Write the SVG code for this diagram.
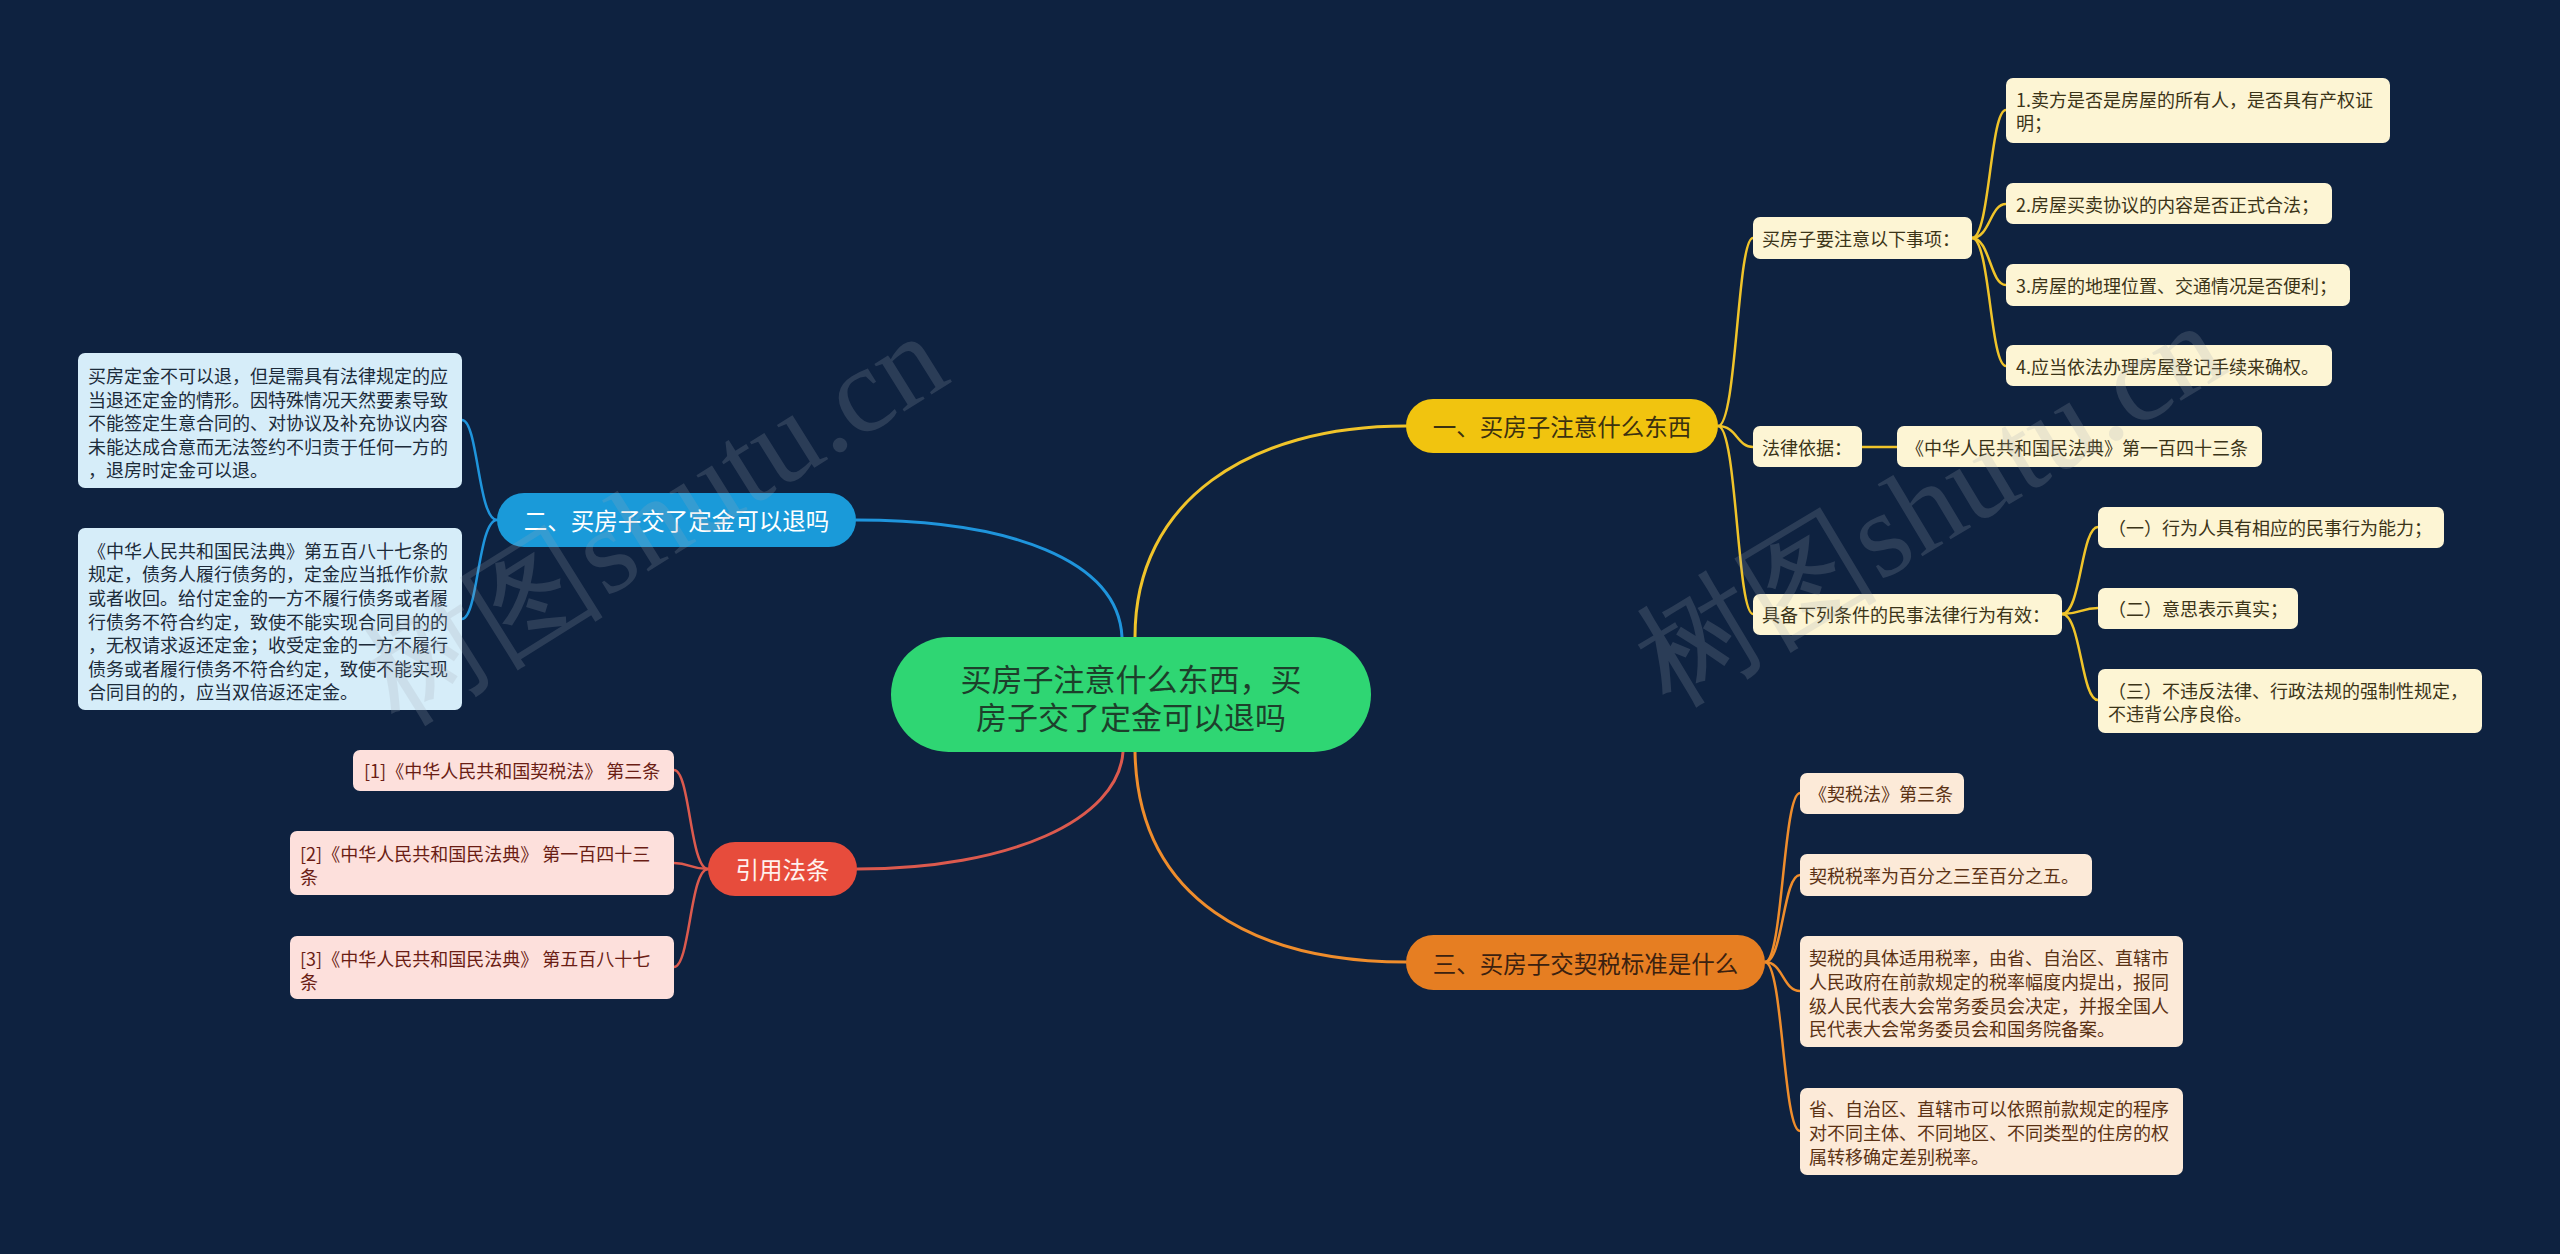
<svg xmlns="http://www.w3.org/2000/svg" width="2560" height="1254" viewBox="0 0 2560 1254">
<style>
text{font-family:"Noto Sans CJK SC","Microsoft YaHei","Noto Sans",sans-serif;dominant-baseline:central}
.wm{font-family:"Liberation Serif","DejaVu Serif",serif;font-size:122px;fill:#a0a8b4;opacity:0.2;dominant-baseline:alphabetic}
.main{fill:none;stroke-width:3;stroke-linecap:round}
.sub{fill:none;stroke-width:2.5;stroke-linecap:round}
.y{stroke:#f0c42a}.b{stroke:#1f95dc}.r{stroke:#dc5a4e}.o{stroke:#ef8d2c}
.l1{font-size:23.5px;text-anchor:middle}
.lf{font-size:18px}
.ly rect{fill:#fdf5d4}.ly text{fill:#3b3418}
.lo rect{fill:#fcead8}.lo text{fill:#5b3214}
.lb rect{fill:#d6edf9}.lb text{fill:#1c2b3a}
.lr rect{fill:#fde0dc}.lr text{fill:#6a1d14}
</style>
<rect width="2560" height="1254" fill="#0e2240"/>
<g id="connectors">
<path class="main y" d="M1135,637 C1135,500 1250,426 1406,426"/>
<path class="main b" d="M856,520 C1010,520 1118,560 1122,637"/>
<path class="main r" d="M857,869 C1010,869 1118,820 1123,752"/>
<path class="main o" d="M1135,752 C1138,900 1255,962 1406,962"/>
<path class="sub y" d="M1718,426 C1737,426 1737,238 1753,238"/>
<path class="sub y" d="M1718,426 C1737,426 1737,447 1753,447"/>
<path class="sub y" d="M1718,426 C1737,426 1737,614 1753,614"/>
<path class="sub y" d="M1972,238 C1990,238 1990,110 2006,110"/>
<path class="sub y" d="M1972,238 C1990,238 1990,204 2006,204"/>
<path class="sub y" d="M1972,238 C1990,238 1990,285 2006,285"/>
<path class="sub y" d="M1972,238 C1990,238 1990,366 2006,366"/>
<path class="sub y" d="M1862,447 L1897,447"/>
<path class="sub y" d="M2062,614 C2081,614 2081,527 2098,527"/>
<path class="sub y" d="M2062,614 C2081,614 2081,608 2098,608"/>
<path class="sub y" d="M2062,614 C2081,614 2081,700 2098,700"/>
<path class="sub b" d="M497,520 C478,520 478,420 462,420"/>
<path class="sub b" d="M497,520 C478,520 478,619 462,619"/>
<path class="sub r" d="M708,869 C690,869 690,770 674,770"/>
<path class="sub r" d="M708,869 C690,869 690,863 674,863"/>
<path class="sub r" d="M708,869 C690,869 690,967 674,967"/>
<path class="sub o" d="M1765,962 C1783,962 1783,793 1800,793"/>
<path class="sub o" d="M1765,962 C1783,962 1783,875 1800,875"/>
<path class="sub o" d="M1765,962 C1783,962 1783,991 1800,991"/>
<path class="sub o" d="M1765,962 C1783,962 1783,1131 1800,1131"/>
</g>
<g id="root">
<rect x="891" y="637" width="480" height="115" rx="57.5" fill="#2fd673"/>
<text x="1131" y="677" font-size="31" text-anchor="middle" fill="#1d3f2b">买房子注意什么东西，买</text>
<text x="1131" y="715" font-size="31" text-anchor="middle" fill="#1d3f2b">房子交了定金可以退吗</text>
</g>
<g id="n1">
<rect x="1406" y="399" width="312" height="54" rx="27" fill="#f1c40f"/>
<text class="l1" x="1562" y="426" fill="#3b3110">一、买房子注意什么东西</text>
</g>
<g id="n2">
<rect x="497" y="493" width="359" height="54" rx="27" fill="#1a9ad9"/>
<text class="l1" x="676.5" y="520" fill="#ffffff">二、买房子交了定金可以退吗</text>
</g>
<g id="n3">
<rect x="1406" y="935" width="359" height="55" rx="27.5" fill="#e67e22"/>
<text class="l1" x="1585.5" y="962.5" fill="#3b2110">三、买房子交契税标准是什么</text>
</g>
<g id="n4">
<rect x="708" y="842" width="149" height="54" rx="27" fill="#e74c3c"/>
<text class="l1" x="782.5" y="869" fill="#fff1ee">引用法条</text>
</g>
<g id="n1-1" class="ly lf">
<rect x="1753" y="217" width="219" height="42" rx="7"/>
<text class="lf" x="1762" y="238">买房子要注意以下事项：</text>
</g>
<g id="n1-1-1" class="ly">
<rect x="2006" y="78" width="384" height="65" rx="7"/>
<text class="lf" x="2016" y="99">1.卖方是否是房屋的所有人，是否具有产权证</text>
<text class="lf" x="2016" y="122">明；</text>
</g>
<g id="n1-1-2" class="ly">
<rect x="2006" y="183" width="326" height="41" rx="7"/>
<text class="lf" x="2016" y="204">2.房屋买卖协议的内容是否正式合法；</text>
</g>
<g id="n1-1-3" class="ly">
<rect x="2006" y="264" width="344" height="42" rx="7"/>
<text class="lf" x="2016" y="285">3.房屋的地理位置、交通情况是否便利；</text>
</g>
<g id="n1-1-4" class="ly">
<rect x="2006" y="345" width="326" height="41" rx="7"/>
<text class="lf" x="2016" y="366">4.应当依法办理房屋登记手续来确权。</text>
</g>
<g id="n1-2" class="ly">
<rect x="1753" y="426" width="109" height="41" rx="7"/>
<text class="lf" x="1762" y="447">法律依据：</text>
</g>
<g id="n1-2-1" class="ly">
<rect x="1897" y="426" width="365" height="41" rx="7"/>
<text class="lf" x="1906" y="447">《中华人民共和国民法典》第一百四十三条</text>
</g>
<g id="n1-3" class="ly">
<rect x="1753" y="594" width="309" height="41" rx="7"/>
<text class="lf" x="1762" y="614">具备下列条件的民事法律行为有效：</text>
</g>
<g id="n1-3-1" class="ly">
<rect x="2098" y="507" width="346" height="41" rx="7"/>
<text class="lf" x="2108" y="527">（一）行为人具有相应的民事行为能力；</text>
</g>
<g id="n1-3-2" class="ly">
<rect x="2098" y="588" width="200" height="41" rx="7"/>
<text class="lf" x="2108" y="608">（二）意思表示真实；</text>
</g>
<g id="n1-3-3" class="ly">
<rect x="2098" y="669" width="384" height="64" rx="7"/>
<text class="lf" x="2108" y="689.5">（三）不违反法律、行政法规的强制性规定，</text>
<text class="lf" x="2108" y="713">不违背公序良俗。</text>
</g>
<g id="n3-1" class="lo">
<rect x="1800" y="773" width="164" height="41" rx="7"/>
<text class="lf" x="1809" y="793">《契税法》第三条</text>
</g>
<g id="n3-2" class="lo">
<rect x="1800" y="854" width="292" height="42" rx="7"/>
<text class="lf" x="1809" y="875">契税税率为百分之三至百分之五。</text>
</g>
<g id="n3-3" class="lo">
<rect x="1800" y="936" width="383" height="111" rx="7"/>
<text class="lf" x="1809" y="957">契税的具体适用税率，由省、自治区、直辖市</text>
<text class="lf" x="1809" y="981">人民政府在前款规定的税率幅度内提出，报同</text>
<text class="lf" x="1809" y="1005">级人民代表大会常务委员会决定，并报全国人</text>
<text class="lf" x="1809" y="1028">民代表大会常务委员会和国务院备案。</text>
</g>
<g id="n3-4" class="lo">
<rect x="1800" y="1088" width="383" height="87" rx="7"/>
<text class="lf" x="1809" y="1108">省、自治区、直辖市可以依照前款规定的程序</text>
<text class="lf" x="1809" y="1132">对不同主体、不同地区、不同类型的住房的权</text>
<text class="lf" x="1809" y="1156">属转移确定差别税率。</text>
</g>
<g id="n2-1" class="lb">
<rect x="78" y="353" width="384" height="135" rx="7"/>
<text class="lf" x="88" y="375">买房定金不可以退，但是需具有法律规定的应</text>
<text class="lf" x="88" y="399">当退还定金的情形。因特殊情况天然要素导致</text>
<text class="lf" x="88" y="422">不能签定生意合同的、对协议及补充协议内容</text>
<text class="lf" x="88" y="446">未能达成合意而无法签约不归责于任何一方的</text>
<text class="lf" x="88" y="469">，退房时定金可以退。</text>
</g>
<g id="n2-2" class="lb">
<rect x="78" y="528" width="384" height="182" rx="7"/>
<text class="lf" x="88" y="550">《中华人民共和国民法典》第五百八十七条的</text>
<text class="lf" x="88" y="573">规定，债务人履行债务的，定金应当抵作价款</text>
<text class="lf" x="88" y="597">或者收回。给付定金的一方不履行债务或者履</text>
<text class="lf" x="88" y="621">行债务不符合约定，致使不能实现合同目的的</text>
<text class="lf" x="88" y="644">，无权请求返还定金；收受定金的一方不履行</text>
<text class="lf" x="88" y="668">债务或者履行债务不符合约定，致使不能实现</text>
<text class="lf" x="88" y="691">合同目的的，应当双倍返还定金。</text>
</g>
<g id="n4-1" class="lr">
<rect x="353" y="750" width="321" height="41" rx="7"/>
<text class="lf" x="364" y="770">[1]《中华人民共和国契税法》 第三条</text>
</g>
<g id="n4-2" class="lr">
<rect x="290" y="831" width="384" height="64" rx="7"/>
<text class="lf" x="300" y="852.5">[2]《中华人民共和国民法典》 第一百四十三</text>
<text class="lf" x="300" y="876">条</text>
</g>
<g id="n4-3" class="lr">
<rect x="290" y="936" width="384" height="63" rx="7"/>
<text class="lf" x="300" y="957.5">[3]《中华人民共和国民法典》 第五百八十七</text>
<text class="lf" x="300" y="981">条</text>
</g>
<g id="watermarks">
<text class="wm" x="655" y="560" text-anchor="middle" transform="rotate(-32 655 520)">树图shutu.cn</text>
<text class="wm" x="1930" y="545" text-anchor="middle" transform="rotate(-31 1930 505)">树图shutu.cn</text>
</g>
</svg>
